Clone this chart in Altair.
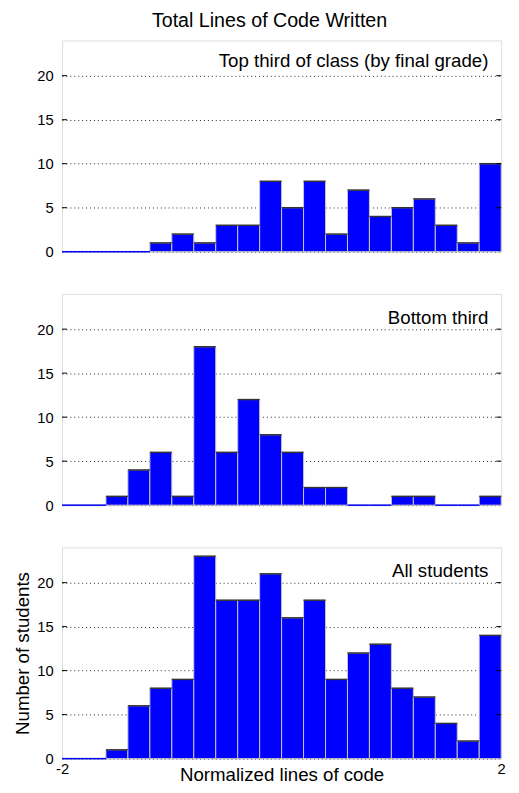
import altair as alt
import pandas as pd

# Bin edges (normalized lines of code)
edges = [-2.0, -1.8, -1.6, -1.4, -1.2, -1.0, -0.8, -0.6, -0.4, -0.2, 0.0,
         0.2, 0.4, 0.6, 0.8, 1.0, 1.2, 1.4, 1.6, 1.8, 2.0]

top_third = [0, 0, 0, 0, 1, 2, 1, 3, 3, 8, 5, 8, 2, 7, 4, 5, 6, 3, 1, 10]
bottom_third = [0, 0, 1, 4, 6, 1, 18, 6, 12, 8, 6, 2, 2, 0, 0, 1, 1, 0, 0, 1]
all_students = [0, 0, 1, 6, 8, 9, 23, 18, 18, 21, 16, 18, 9, 12, 13, 8, 7, 4, 2, 14]

panel_labels = ["Top third of class (by final grade)", "Bottom third", "All students"]
y_ticks = [0, 5, 10, 15, 20]
x_ticks = [-2, 2]

W, H = 447, 215
FONT = "Liberation Sans"


def panel(counts, label, is_bottom, text_y):
    df = pd.DataFrame({"x0": edges[:-1], "x1": edges[1:], "count": counts})
    xscale = alt.Scale(domain=[-2, 2], nice=False, zero=False)
    yscale = alt.Scale(domain=[0, 24], nice=False)

    ykw = dict(values=y_ticks, grid=True, gridColor="#222", gridDash=[1, 3],
               gridWidth=1, domain=False, ticks=False, labelPadding=9,
               labelFontSize=15, labelColor="black")
    if is_bottom:
        ykw.update(title="Number of students", titleFontSize=19,
                   titleFontWeight="normal", titlePadding=4, titleColor="black")
        xaxis = alt.Axis(values=x_ticks, title="Normalized lines of code",
                         labelExpr="'' + datum.value",
                         grid=False, domain=False, ticks=False, labelPadding=3,
                         labelFontSize=15, labelColor="black", labelFlush=False,
                         titleFontSize=19, titleFontWeight="normal",
                         titleColor="black", titlePadding=-11)
        xenc = alt.X("x0:Q", scale=xscale, axis=xaxis)
    else:
        ykw.update(title="")
        xenc = alt.X("x0:Q", scale=xscale, axis=None)

    base = alt.Chart(df)
    bars = base.mark_rect(color="#0000FF", stroke="#c8c8c8", strokeWidth=1).encode(
        x=xenc,
        x2="x1:Q",
        y=alt.Y("count:Q", scale=yscale, axis=alt.Axis(**ykw)),
        y2=alt.datum(0),
    )
    tops = base.mark_rule(strokeWidth=1.5).encode(
        x="x0:Q",
        x2="x1:Q",
        y="count:Q",
        color=alt.condition("datum.count > 0", alt.value("#333333"), alt.value("#0000FF")),
    )
    tdf = pd.DataFrame({"v": y_ticks[1:]})
    lticks = alt.Chart(tdf).mark_rule(color="black", strokeWidth=1).encode(
        y=alt.Y("v:Q", scale=yscale), x=alt.value(0), x2=alt.value(5))
    rticks = alt.Chart(tdf).mark_rule(color="black", strokeWidth=1).encode(
        y=alt.Y("v:Q", scale=yscale), x=alt.value(W - 5), x2=alt.value(W))
    txt = alt.Chart(pd.DataFrame({"t": [label]})).mark_text(
        align="right", baseline="middle", fontSize=19, font=FONT, color="black"
    ).encode(text="t:N", x=alt.value(W - 13), y=alt.value(text_y))
    return alt.layer(bars, tops, lticks, rticks, txt).properties(width=W, height=H)


p1 = panel(top_third, panel_labels[0], False, 21)
p2 = panel(bottom_third, panel_labels[1], False, 24.5)
p3 = panel(all_students, panel_labels[2], True, 24.5)

chart = alt.vconcat(p1, p2, p3, spacing=33).properties(
    title=alt.TitleParams("Total Lines of Code Written", fontSize=20,
                          fontWeight="normal", anchor="middle", offset=9, dx=10,
                          color="black", font=FONT),
    padding={"left": 5, "right": 5, "top": -4, "bottom": 5},
).configure_view(stroke="#666666", strokeWidth=1).configure_axis(
    labelFont=FONT, titleFont=FONT
).configure(background="white")

chart.save("out.html", embed_options={"renderer": "svg", "actions": False})
